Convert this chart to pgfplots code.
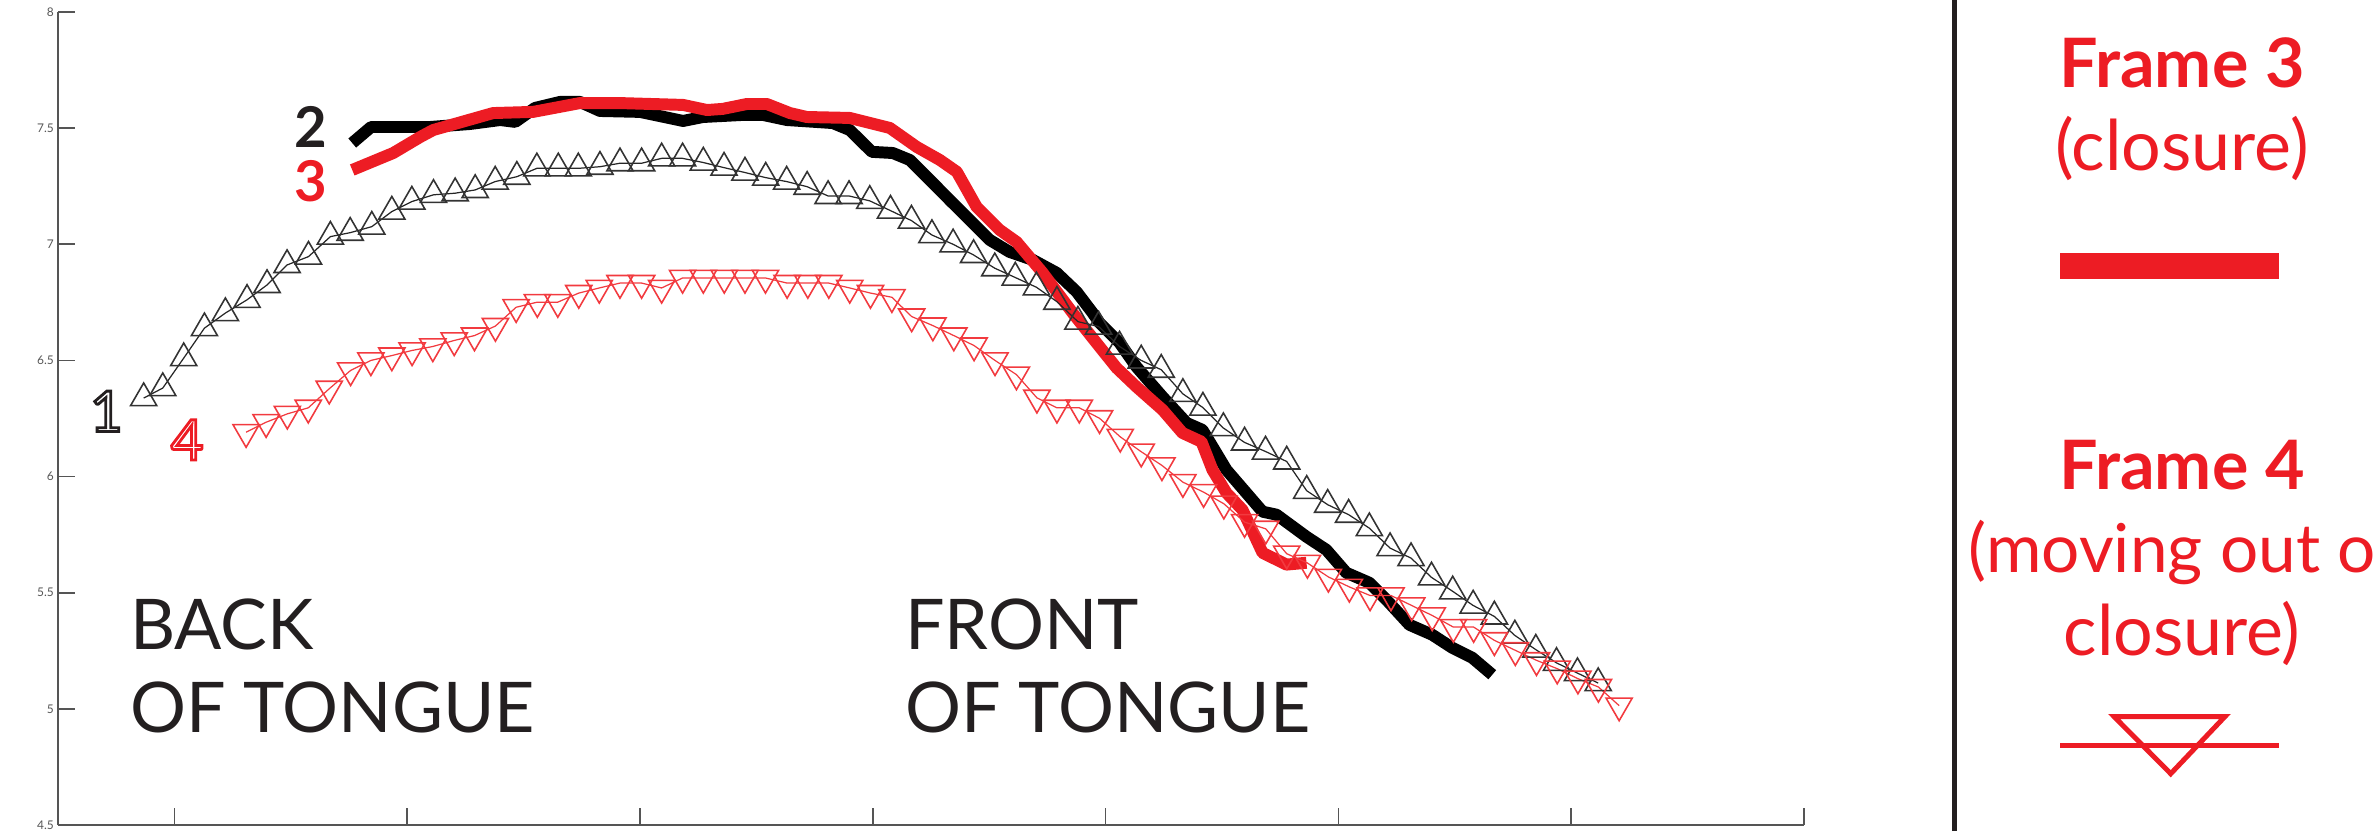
\documentclass[border=0pt]{standalone}
\usepackage{pgfplots}
\pgfplotsset{compat=1.18}
\usepackage{fontspec}
\setmainfont{Lato}
\definecolor{myred}{HTML}{ED1C24}
\definecolor{mkred}{HTML}{F23A3F}
\definecolor{dk}{HTML}{231F20}
\definecolor{axgray}{HTML}{555555}
\newcommand{\outl}[1]{\special{pdf:literal direct 1 Tr}#1\special{pdf:literal direct 0 Tr}}
\newcommand{\regfont}{\fontsize{19.9}{23.6}\selectfont}
\begin{document}
\begin{tikzpicture}
\useasboundingbox (0,0) rectangle (23.73,8.31);
\begin{axis}[
  at={(0.58cm,0.06cm)}, anchor=south west,
  scale only axis, width=17.46cm, height=8.13cm,
  xmin=0.5, xmax=8, ymin=4.5, ymax=8,
  axis x line*=bottom, axis y line*=left,
  axis line style={axgray, line width=0.55pt},
  xtick={1,2,...,8}, xticklabels={},
  ytick={4.5,5,...,8},
  tick align=inside, major tick length=0.17cm,
  tick style={axgray, line width=0.5pt},
  /pgf/number format/assume math mode=true,
  yticklabel style={font=\fontsize{3.4}{4}\selectfont, text=axgray, inner sep=1pt},
  clip=false,
]
% Frame 2 (thick black)
\addplot[black, line width=3.4pt, line join=round, no markers] coordinates {
(1.764,7.436) (1.845,7.505) (2.099,7.505) (2.270,7.518) (2.399,7.535) (2.464,7.527)
(2.549,7.587) (2.657,7.613) (2.742,7.613) (2.828,7.574) (3.000,7.570) (3.185,7.531)
(3.270,7.548) (3.442,7.557) (3.528,7.557) (3.631,7.535) (3.828,7.522) (3.901,7.492)
(3.996,7.398) (4.086,7.393) (4.159,7.363) (4.245,7.277) (4.330,7.191) (4.403,7.118)
(4.502,7.019) (4.588,6.967) (4.687,6.933) (4.790,6.877) (4.876,6.795) (4.944,6.705)
(4.974,6.662) (5.060,6.576) (5.133,6.472) (5.245,6.343) (5.348,6.231) (5.416,6.201)
(5.519,6.029) (5.674,5.849) (5.734,5.836) (5.863,5.741) (5.948,5.685) (6.034,5.586)
(6.133,5.543) (6.206,5.470) (6.305,5.362) (6.403,5.319) (6.489,5.263) (6.575,5.220)
(6.661,5.147)
};
% Frame 3 (thick red)
\addplot[myred, line width=3.4pt, line join=round, no markers] coordinates {
(1.764,7.320) (1.940,7.393) (2.056,7.462) (2.112,7.492) (2.369,7.565) (2.541,7.570)
(2.742,7.608) (2.914,7.608) (3.185,7.600) (3.288,7.578) (3.356,7.583) (3.459,7.604)
(3.545,7.604) (3.644,7.565) (3.717,7.548) (3.901,7.544) (4.073,7.501) (4.189,7.419)
(4.288,7.363) (4.361,7.312) (4.446,7.161) (4.545,7.062) (4.618,7.010) (4.730,6.877)
(4.858,6.705) (4.974,6.559) (5.047,6.468) (5.133,6.386) (5.245,6.287) (5.330,6.188)
(5.412,6.150) (5.459,6.029) (5.519,5.930) (5.588,5.857) (5.674,5.672) (5.777,5.621)
(5.863,5.629)
};
% Frame 1 (black, up triangles)
\addplot[black!85, line width=0.35pt, mark=triangle, mark size=4.3pt,
  mark options={line width=0.45pt, draw=black!80, fill=none, solid}] coordinates {
(0.868,6.338) (0.950,6.381) (1.040,6.510) (1.129,6.639) (1.219,6.704) (1.312,6.761)
(1.398,6.825) (1.484,6.911) (1.576,6.947) (1.670,7.033) (1.755,7.050) (1.848,7.076)
(1.934,7.141) (2.020,7.184) (2.113,7.213) (2.206,7.220) (2.292,7.234) (2.378,7.270)
(2.471,7.291) (2.557,7.327) (2.649,7.327) (2.735,7.327) (2.828,7.334) (2.914,7.349)
(3.007,7.349) (3.093,7.370) (3.183,7.370) (3.272,7.352) (3.361,7.330) (3.451,7.309)
(3.540,7.287) (3.630,7.270) (3.718,7.248) (3.808,7.208) (3.898,7.208) (3.987,7.187)
(4.076,7.145) (4.166,7.102) (4.254,7.040) (4.345,7.000) (4.433,6.954) (4.524,6.897)
(4.612,6.857) (4.703,6.815) (4.791,6.753) (4.881,6.667) (4.970,6.646) (5.060,6.560)
(5.153,6.500) (5.239,6.460) (5.332,6.356) (5.418,6.297) (5.506,6.209) (5.597,6.147)
(5.687,6.108) (5.778,6.065) (5.864,5.939) (5.954,5.879) (6.044,5.836) (6.133,5.778)
(6.222,5.692) (6.312,5.649) (6.400,5.566) (6.491,5.506) (6.579,5.445) (6.670,5.398)
(6.758,5.316) (6.848,5.255) (6.937,5.198) (7.027,5.154) (7.116,5.111)
};
% Frame 4 (red, down triangles)
\addplot[mkred, line width=0.35pt, mark=triangle, mark size=4.3pt,
  mark options={line width=0.45pt, draw=mkred, fill=none, solid, rotate=180}] coordinates {
(1.308,6.191) (1.394,6.234) (1.485,6.270) (1.575,6.296) (1.665,6.378) (1.757,6.457)
(1.844,6.500) (1.934,6.521) (2.021,6.543) (2.110,6.560) (2.202,6.586) (2.289,6.607)
(2.379,6.648) (2.468,6.729) (2.559,6.751) (2.647,6.751) (2.737,6.790) (2.825,6.812)
(2.914,6.833) (3.007,6.833) (3.093,6.812) (3.183,6.855) (3.272,6.855) (3.362,6.855)
(3.451,6.855) (3.539,6.855) (3.632,6.833) (3.721,6.833) (3.811,6.833) (3.901,6.812)
(3.990,6.790) (4.082,6.772) (4.167,6.689) (4.258,6.650) (4.348,6.607) (4.435,6.564)
(4.525,6.500) (4.617,6.439) (4.705,6.339) (4.791,6.296) (4.887,6.296) (4.974,6.251)
(5.063,6.171) (5.153,6.107) (5.242,6.048) (5.332,5.976) (5.421,5.933) (5.508,5.883)
(5.597,5.804) (5.688,5.775) (5.778,5.668) (5.867,5.628) (5.957,5.568) (6.047,5.525)
(6.136,5.488) (6.226,5.488) (6.315,5.445) (6.403,5.402) (6.494,5.352) (6.581,5.352)
(6.670,5.295) (6.760,5.252) (6.851,5.209) (6.940,5.173) (7.029,5.130) (7.117,5.094)
(7.206,5.014)
};
% curve labels
\node[text=dk, font=\fontsize{16}{16}\selectfont\bfseries, inner sep=0] at (axis cs:1.584,7.506) {2};
\node[text=myred, font=\fontsize{16}{16}\selectfont\bfseries, inner sep=0] at (axis cs:1.587,7.270) {3};
\node[text=dk, line width=0.8pt, font=\fontsize{16}{16}\selectfont, inner sep=0] at (axis cs:0.708,6.281) {\outl{1}};
\node[text=myred, line width=0.8pt, font=\fontsize{16}{16}\selectfont, inner sep=0] at (axis cs:1.055,6.158) {\outl{4}};
% region labels
\node[text=dk, font=\regfont, anchor=base west, inner sep=0] at (axis cs:0.807,5.255) {BACK};
\node[text=dk, font=\regfont, anchor=base west, inner sep=0] at (axis cs:0.807,4.898) {OF TONGUE};
\node[text=dk, font=\regfont, anchor=base west, inner sep=0] at (axis cs:4.137,5.255) {FRONT};
\node[text=dk, font=\regfont, anchor=base west, inner sep=0] at (axis cs:4.137,4.898) {OF TONGUE};
\end{axis}
% separator and key
\draw[dk, line width=0.05cm] (19.54,0) -- (19.54,8.31);
\node[text=myred, font=\fontsize{19.4}{23}\selectfont\bfseries, anchor=base, inner sep=0] at (21.82,7.436) {Frame 3};
\node[text=myred, font=\fontsize{19.9}{23}\selectfont, anchor=base, inner sep=0] at (21.82,6.604) {(closure)};
\draw[myred, line width=0.26cm] (20.60,5.65) -- (22.79,5.65);
\node[text=myred, font=\fontsize{19.4}{23}\selectfont\bfseries, anchor=base, inner sep=0] at (21.82,3.41) {Frame 4};
\node[text=myred, font=\fontsize{19.2}{23}\selectfont, anchor=base west, inner sep=0] at (19.68,2.59) {(moving out of};
\node[text=myred, font=\fontsize{19.9}{23}\selectfont, anchor=base, inner sep=0] at (21.82,1.755) {closure)};
\draw[myred, line width=0.05cm] (20.60,0.854) -- (22.79,0.854);
\draw[myred, line width=0.05cm, line join=miter] (21.14,1.145) -- (22.25,1.145) -- (21.707,0.573) -- cycle;
\end{tikzpicture}
\end{document}
